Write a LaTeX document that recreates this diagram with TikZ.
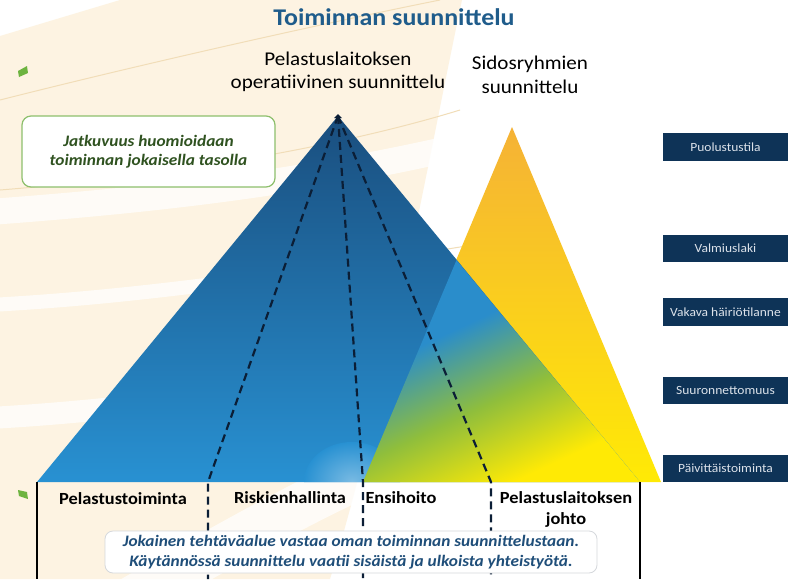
\documentclass[tikz,border=0pt]{standalone}
\usepackage{fontspec}
\setmainfont{Carlito}[FakeStretch=1.08]
\usetikzlibrary{shapes.geometric}
\definecolor{cream}{HTML}{FDF3E2}
\definecolor{beige}{HTML}{F1DDB8}
\definecolor{titleblue}{HTML}{1F5C8B}
\definecolor{navy}{HTML}{0E3357}
\definecolor{boxtext}{HTML}{DCE2EA}
\definecolor{greenb}{HTML}{8DBF6C}
\definecolor{greent}{HTML}{2F5220}
\definecolor{leaf}{HTML}{6DB33F}
\definecolor{bluetop}{HTML}{1A4E7E}
\definecolor{bluebot}{HTML}{2891D2}
\definecolor{orangetop}{HTML}{F5B236}
\definecolor{orangemid}{HTML}{F8C22C}
\definecolor{yellowbot}{HTML}{FFEA05}
\definecolor{ovblue}{HTML}{2A8DCB}
\definecolor{ovgreen}{HTML}{8FBE3C}
\definecolor{dashc}{HTML}{0B1E36}
\definecolor{bottomtext}{HTML}{1F4E79}
\definecolor{bottomborder}{HTML}{D5D8DC}
\pgfdeclareverticalshading{overlapshade}{100bp}{color(0bp)=(yellowbot); color(28bp)=(yellowbot); color(45bp)=(ovgreen); color(62bp)=(ovblue); color(100bp)=(ovblue)}
\tikzset{
  levelbox/.style={fill=navy, text=boxtext, font=\fontsize{12.5}{14}\selectfont, inner sep=0pt},
  coltext/.style={font=\bfseries\fontsize{17}{21}\selectfont, align=center, text=black},
  dashline/.style={draw=dashc, line width=2.2pt, dash pattern=on 8pt off 5pt},
  solidline/.style={draw=black, line width=2.2pt},
  band/.style={draw=white, opacity=0.75},
  thinline/.style={draw=beige, line width=1pt}
}
\begin{document}
\begin{tikzpicture}[x=1pt,y=-1pt]
\useasboundingbox (0,0) rectangle (788,579);
% background
\fill[white] (0,0) rectangle (788,579);
\fill[cream] (0,36) -- (120,0) -- (462,0) .. controls (430,150) and (390,380) .. (330,579) -- (0,579) -- cycle;
\draw[band, line width=26pt] (-10,212) .. controls (150,200) and (300,184) .. (470,144);
\draw[band, line width=22pt] (-10,418) .. controls (60,414) and (120,408) .. (200,398);
\draw[band, line width=45pt] (130,600) .. controls (260,525) and (350,475) .. (470,430);
\draw[band, line width=14pt] (-10,305) .. controls (80,300) and (150,292) .. (230,282);
\draw[thinline] (0,100) .. controls (150,62) and (330,22) .. (440,0);
\draw[thinline] (0,190) .. controls (150,178) and (330,150) .. (460,110);
\draw[thinline] (250,280) .. controls (330,265) and (420,255) .. (500,240);
% leaves
\fill[leaf] (18,71) -- (27,66) -- (28,73) -- (19,77) -- cycle;
\fill[leaf] (18,490) -- (27,492) -- (28,499) -- (19,496) -- cycle;
% coordinates
\coordinate (apex) at (338,116);
\coordinate (bl) at (37,482);
\coordinate (br) at (640,482);
\coordinate (oapex) at (512,127);
\coordinate (obl) at (363,482);
\coordinate (obr) at (661,482);
\coordinate (ovtop) at (456.5,260.1);
% orange triangle
\shade[top color=orangetop, middle color=orangemid, bottom color=yellowbot] (oapex) -- (obl) -- (obr) -- cycle;
% blue triangle
\shade[top color=bluetop, bottom color=bluebot] (apex) -- (bl) -- (br) -- cycle;
% glare
\begin{scope}
\clip (apex) -- (bl) -- (br) -- cycle;
\shade[inner color=white!38!bluebot, outer color=bluebot] (352,482) ellipse (48pt and 40pt);
\end{scope}
% overlap
\shade[shading=overlapshade, shading angle=25] (ovtop) -- (obl) -- (br) -- cycle;
% dashed lines
\coordinate (d1) at (208,482);
\coordinate (d2) at (363,482);
\coordinate (d3) at (491,482);
\coordinate (d1b) at (208,579);
\coordinate (d2b) at (363,579);
\coordinate (d3b) at (491,579);
\coordinate (s1b) at (37,579);
\coordinate (s2b) at (640,579);
\draw[dashline] (apex) -- (d1) -- (d1b);
\draw[dashline] (apex) -- (d2) -- (d2b);
\draw[dashline] (apex) -- (d3) -- (d3b);
\draw[solidline] (bl) -- (s1b);
\draw[solidline] (br) -- (s2b);
\fill[dashc] (apex) ++(-4,2) -- ++(4,-4) -- ++(4,4) -- cycle;
% texts
\node[font=\bfseries\fontsize{24}{28}\selectfont, text=titleblue] (title) at (394,17) {Toiminnan suunnittelu};
\node[align=center, font=\fontsize{19.5}{23}\selectfont] (op) at (338,71.5) {Pelastuslaitoksen\\operatiivinen suunnittelu};
\node[align=center, font=\fontsize{19.5}{24}\selectfont] (sid) at (530,75) {Sidosryhmien\\suunnittelu};
\node[draw=greenb, fill=white, rounded corners=9pt, line width=1.2pt, minimum width=253pt, minimum height=71pt, align=center, font=\bfseries\itshape\fontsize{16}{19.5}\selectfont, text=greent] (jat) at (148.5,151.5) {Jatkuvuus huomioidaan\\toiminnan jokaisella tasolla};
% column labels
\node[coltext] (c1) at (123,499) {Pelastustoiminta};
\node[coltext] (c2) at (290,498) {Riskienhallinta};
\node[coltext] (c3) at (401,498) {Ensihoito};
\node[coltext] (c4) at (566,509.5) {Pelastuslaitoksen\\johto};
% bottom box
\node[draw=bottomborder, fill=white, rounded corners=8pt, line width=0.8pt, minimum width=492pt, minimum height=42pt, align=center, font=\bfseries\itshape\fontsize{16}{20}\selectfont, text=bottomtext] (note) at (351,552) {Jokainen tehtäväalue vastaa oman toiminnan suunnittelustaan.\\Käytännössä suunnittelu vaatii sisäistä ja ulkoista yhteistyötä.};
% level boxes
\fill[navy] (663,133) rectangle (790,161);
\node[levelbox] (l1) at (725.5,147) {Puolustustila};
\fill[navy] (663,235) rectangle (790,262);
\node[levelbox] (l2) at (725.5,248.5) {Valmiuslaki};
\fill[navy] (663,298) rectangle (790,326);
\node[levelbox] (l3) at (725.5,312) {Vakava häiriötilanne};
\fill[navy] (663,377) rectangle (790,404);
\node[levelbox] (l4) at (725.5,390.5) {Suuronnettomuus};
\fill[navy] (663,455) rectangle (790,482);
\node[levelbox] (l5) at (725.5,468.5) {Päivittäistoiminta};
\end{tikzpicture}
\end{document}
